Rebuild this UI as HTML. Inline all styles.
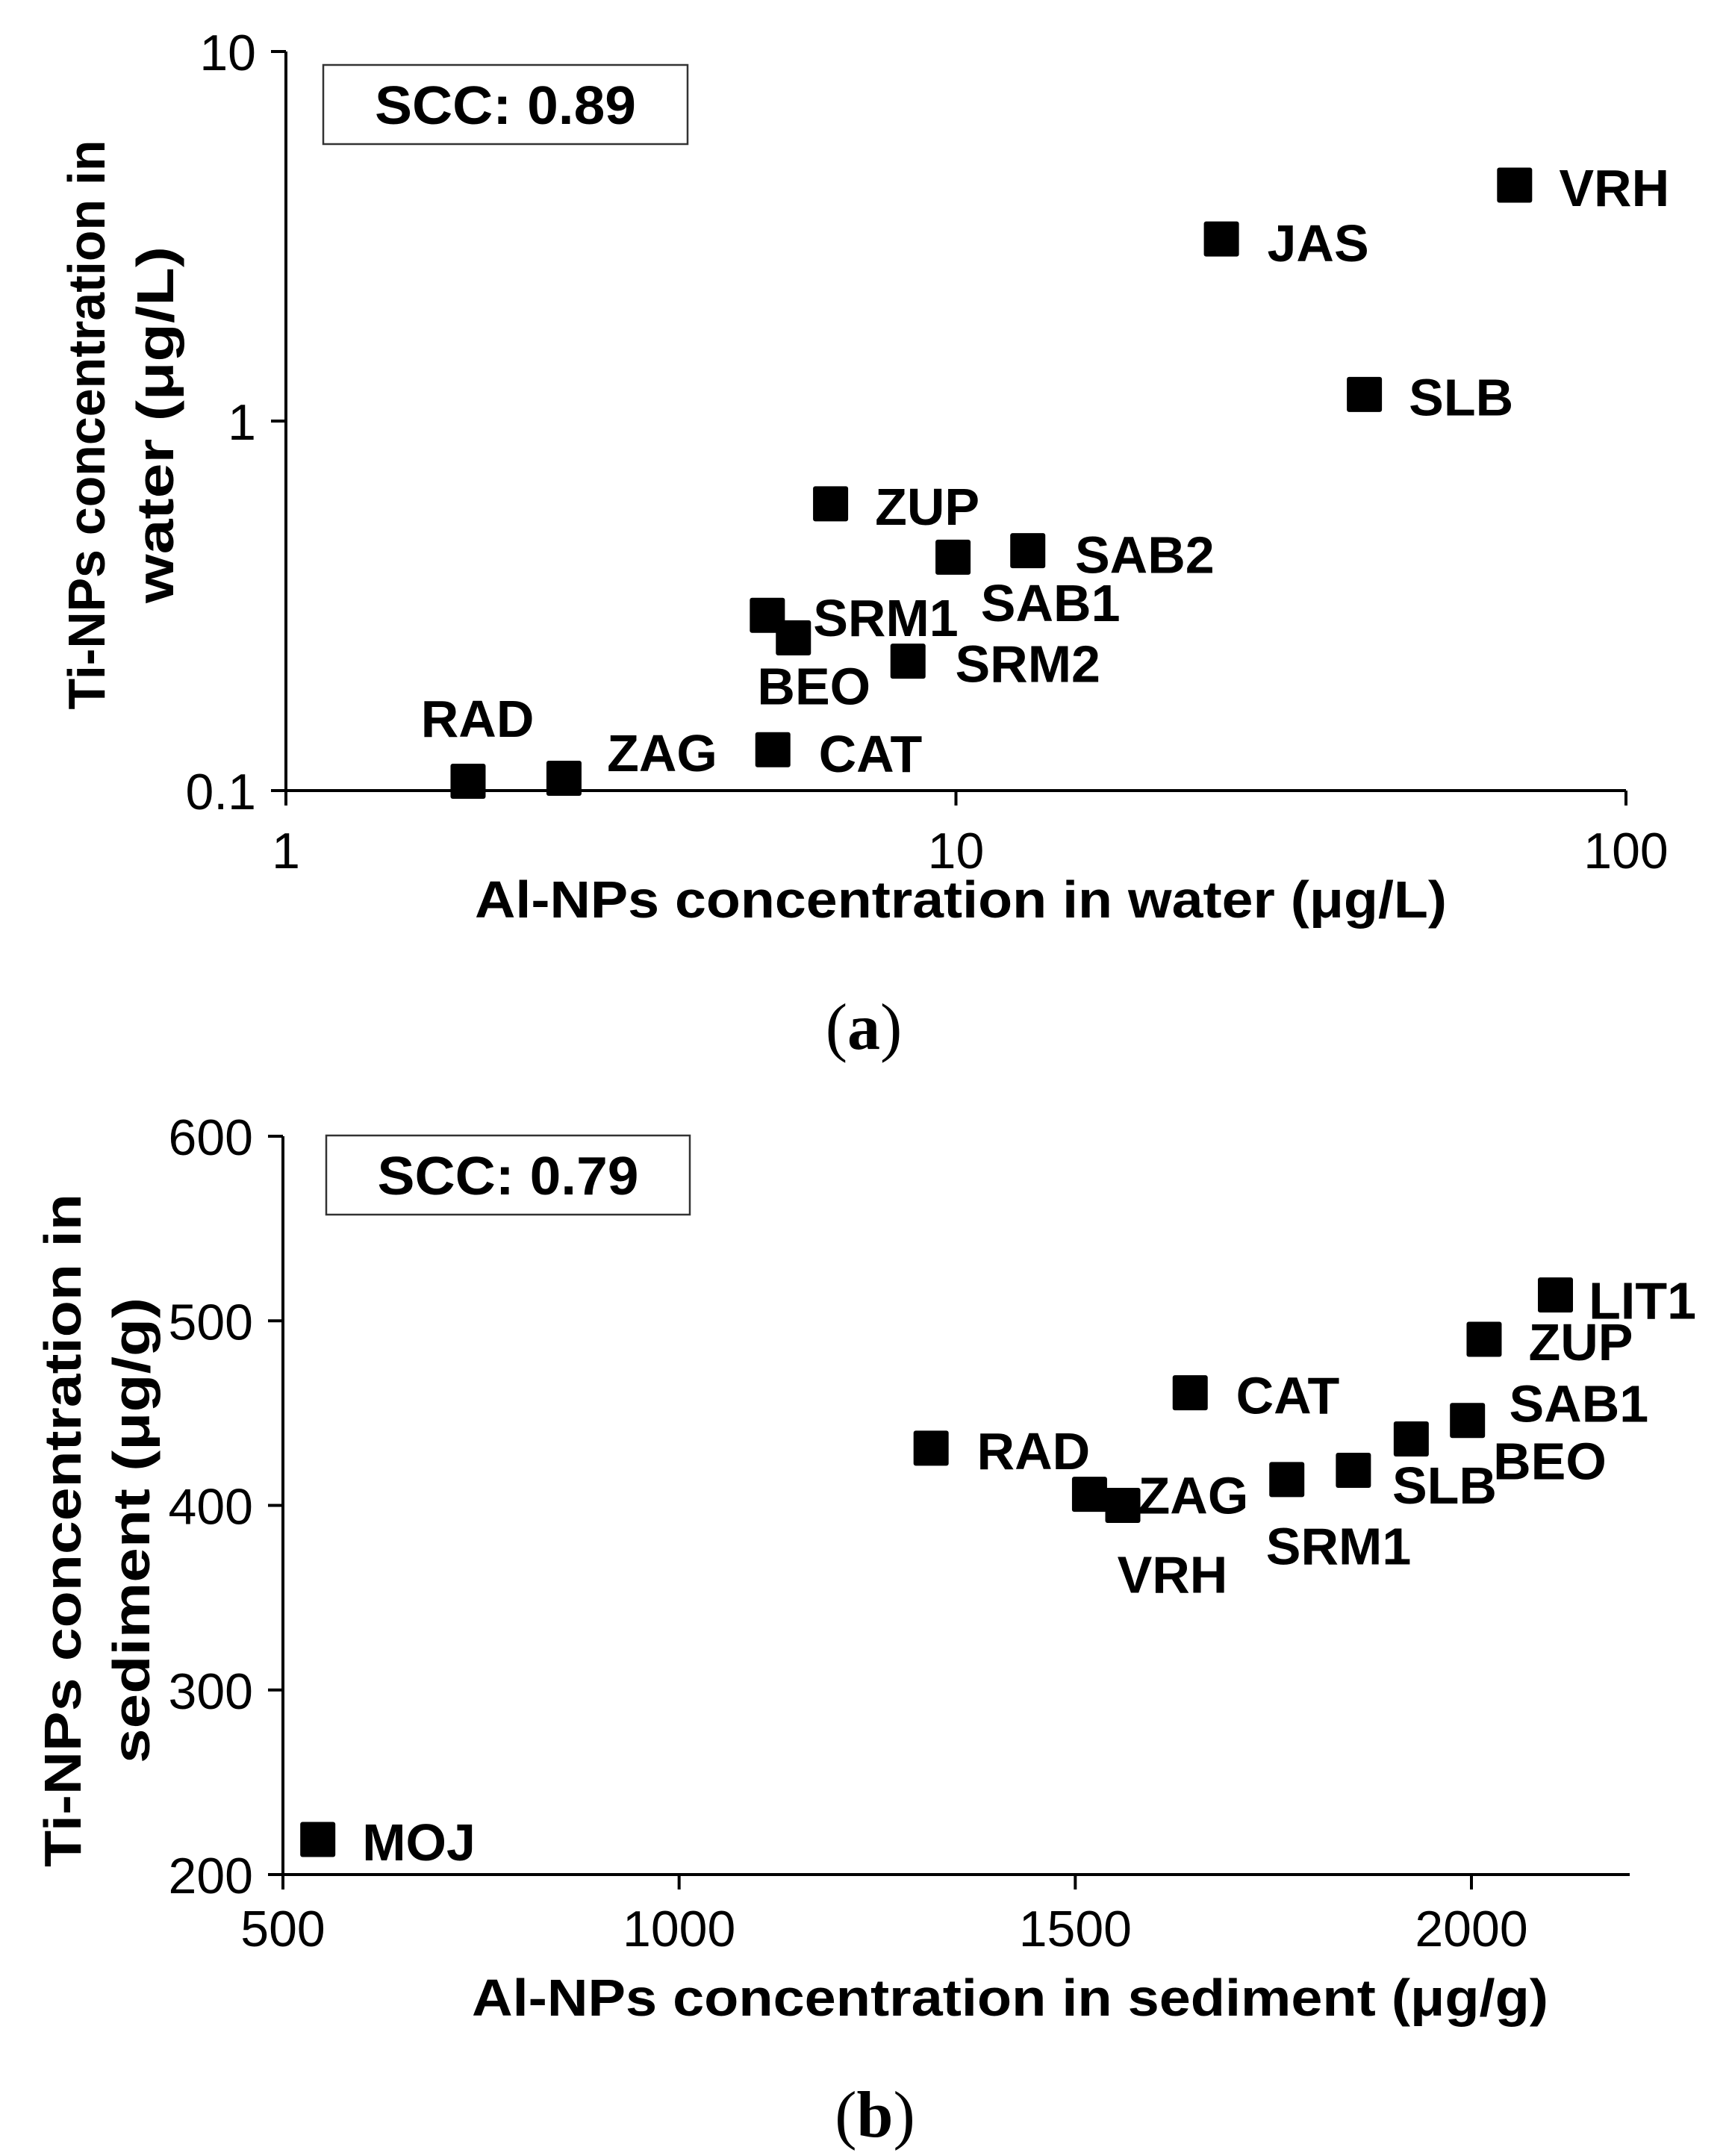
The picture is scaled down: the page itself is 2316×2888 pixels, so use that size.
<!DOCTYPE html>
<html><head><meta charset="utf-8"><style>
html,body{margin:0;padding:0;background:#fff}
svg{display:block}
text{font-family:"Liberation Sans",Arial,sans-serif;fill:#000}
</style></head><body>
<svg id="chart" width="2316" height="2888" viewBox="0 0 2316 2888" xmlns="http://www.w3.org/2000/svg"></svg>
<script>
// ---- Panel (a) data ----
const aNames = ["VRH","JAS","SLB","ZUP","SAB2","SAB1","SRM1","BEO","SRM2","CAT","ZAG","RAD"];
const aAl = [68.2,24.9,40.7,6.5,12.8,9.9,5.23,5.72,8.48,5.33,2.6,1.87];
const aTi = [4.35,3.11,1.18,0.597,0.446,0.428,0.298,0.259,0.224,0.129,0.108,0.106];
const aXTicks = [1,10,100];
const aYTicks = [0.1,1,10];
// ---- Panel (b) data ----
const bNames = ["LIT1","ZUP","CAT","SAB1","BEO","SLB","SRM1","RAD","ZAG","VRH","MOJ"];
const bAl = [2106,2016,1645,1995,1924,1851,1767,1318,1518,1560,544];
const bTi = [514,490,461,446,436,419,414,431,406,400,219];
const bXTicks = [500,1000,1500,2000];
const bYTicks = [200,300,400,500,600];

const NS="http://www.w3.org/2000/svg";
const svg=document.getElementById('chart');
function mk(tag,attrs,parent){const e=document.createElementNS(NS,tag);for(const k in attrs)e.setAttribute(k,attrs[k]);(parent||svg).appendChild(e);return e;}
const S=1.86;
const aOff={VRH:[32,15],JAS:[33,16],SLB:[32,15],ZUP:[32,15],SAB2:[34,16],SAB1:[20,46],SRM1:[33,15],BEO:[-26,48],SRM2:[34,15],CAT:[33,16],ZAG:[31,-5],RAD:[-34,-32]};
const bOff={LIT1:[24,17],ZUP:[32,15],CAT:[33,15],SAB1:[30,1],BEO:[59,29],SLB:[28,24],SRM1:[-15,61],RAD:[33,15],ZAG:[35,14],VRH:[-4,63],MOJ:[32,15]};

function panel(o){
  const g=mk('g',{});
  
  
  const ya=mk('line',{x1:o.x0,y1:o.y1,x2:o.x0,y2:o.y0+20,stroke:'#000','stroke-width':4},g);
  
  
  const xa=mk('line',{x1:o.x0-20,y1:o.y0,x2:o.x1,y2:o.y0,stroke:'#000','stroke-width':4},g);
  
  
  o.xt.forEach(v=>{const x=o.sx(v);
    mk('line',{x1:x,y1:o.y0,x2:x,y2:o.y0+20,stroke:'#000','stroke-width':4},g);
    const t=mk('text',{x:x,y:o.xlabY,'text-anchor':'middle','font-size':68},g);t.textContent=v;
    
    });
  o.yt.forEach(v=>{const y=o.sy(v);
    mk('line',{x1:o.x0-20,y1:y,x2:o.x0,y2:y,stroke:'#000','stroke-width':4},g);
    const t=mk('text',{x:o.x0-40,y:y+25,'text-anchor':'end','font-size':68},g);t.textContent=v;
    
    });
  const r=mk('rect',{x:o.box[0],y:o.box[1],width:o.box[2],height:o.box[3],fill:'#fff',stroke:'#333','stroke-width':2.5},g);
  
  
  const st=mk('text',{x:o.box[0]+o.box[2]/2,y:o.box[1]+o.box[3]/2+26,'text-anchor':'middle','font-size':72,'font-weight':'bold',textLength:350,lengthAdjust:'spacingAndGlyphs'},g);
  st.textContent=o.scc;
  
  
  o.names.forEach((n,i)=>{const x=o.sx(o.xs[i]),y=o.sy(o.ys[i]);
    const m=mk('rect',{x:x-23.5,y:y-23.5,width:47,height:47,rx:3,fill:'#000'},g);
    
    
    const off=o.off[n];
    const t=mk('text',{x:x+off[0]*S,y:y+off[1]*S,'font-size':70,'font-weight':'bold'},g);t.textContent=n;
    
    });
  const xt=mk('text',{x:o.xtitle[0],y:o.xtitle[1],'text-anchor':'middle','font-size':70,'font-weight':'bold',textLength:o.xtitle[3],lengthAdjust:'spacingAndGlyphs'},g);
  xt.textContent=o.xtitle[2];
  
  
  o.ytitle.forEach(l=>{const t=mk('text',{x:0,y:0,'text-anchor':'middle','font-size':70,'font-weight':'bold',textLength:l[3],lengthAdjust:'spacingAndGlyphs',transform:`translate(${l[0]},${l[1]}) rotate(-90)`},g);
    t.textContent=l[2];
    
    });
  const c=mk('text',{x:o.cap[0],y:o.cap[1],'text-anchor':'middle','font-size':88,style:'font-family:"Liberation Serif",serif'},g);
  c.innerHTML=o.cap[2];
  
  
}
const ax0=383,ax1=2178,ay0=1059,ay1=69;
panel({id:'panel-a',x0:ax0,x1:ax1,y0:ay0,y1:ay1,
  sx:v=>ax0+Math.log10(v)*(ax1-ax0)/2,
  sy:v=>ay0-(Math.log10(v)+1)*(ay0-ay1)/2,
  xt:aXTicks,yt:aYTicks,xlabY:1163,names:aNames,xs:aAl,ys:aTi,off:aOff,
  box:[433,87,488,106],scc:'SCC: 0.89',
  xtitle:[1287,1229,'Al-NPs concentration in water (μg/L)',1302],
  ytitle:[[140,569,'Ti-NPs concentration in',763],[232,569,'water (μg/L)',478]],
  cap:[1157,1405,'(<tspan font-weight="bold">a</tspan>)']});
const bx0=379,bx1=2183,by0=2511,by1=1522;
panel({id:'panel-b',x0:bx0,x1:bx1,y0:by0,y1:by1,
  sx:v=>bx0+(v-500)*(1971-379)/1500,
  sy:v=>by0-(v-200)*(by0-by1)/400,
  xt:bXTicks,yt:bYTicks,xlabY:2607,names:bNames,xs:bAl,ys:bTi,off:bOff,
  box:[437,1521,487,106],scc:'SCC: 0.79',
  xtitle:[1353,2700,'Al-NPs concentration in sediment (μg/g)',1442],
  ytitle:[[108,2050,'Ti-NPs concentration in',902],[200,2050,'sediment (μg/g)',624]],
  cap:[1172,2862,'(<tspan font-weight="bold">b</tspan>)']});
</script>
</body></html>
